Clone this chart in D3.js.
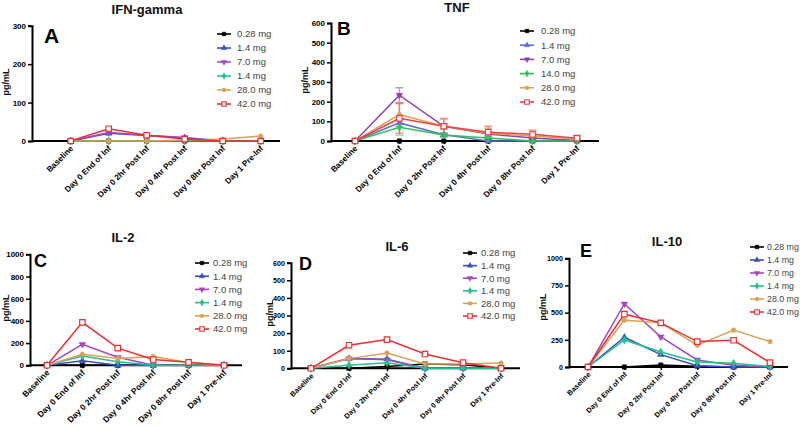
<!DOCTYPE html>
<html><head><meta charset="utf-8">
<script src="https://cdn.jsdelivr.net/npm/d3@7"></script>
<style>
html,body{margin:0;padding:0;background:#fff;}
svg{display:block;font-family:"Liberation Sans",Arial,sans-serif;}
</style></head>
<body>
<svg id="chart" width="800" height="426"></svg>
<script>
// ---------- data ----------
const categories = ["Baseline","Day 0 End of Inf","Day 0 2hr Post Inf","Day 0 4hr Post Inf","Day 0 8hr Post Inf","Day 1 Pre-Inf"];
const doseLabels = ["0.28 mg","1.4 mg","7.0 mg","1.4 mg","28.0 mg","42.0 mg"];
const doseLabelsTNF = ["0.28 mg","1.4 mg","7.0 mg","14.0 mg","28.0 mg","42.0 mg"];
const panelTitles = ["IFN-gamma","TNF","IL-2","IL-6","IL-10"];
const panelLetters = ["A","B","C","D","E"];
const yMaxes = [300,600,1000,600,1000];
const ticksA = [0,100,200,300];
const ticksB = [0,100,200,300,400,500,600];
const ticksC = [0,200,400,600,800,1000];
const ticksD = [0,100,200,300,400,500,600];
const ticksE = [0,250,500,750,1000];

// rows: 0.28, 1.4, 7.0, 1.4/14.0, 28.0, 42.0 mg
const ifnGamma = [
  [0,0,0,0,0,0],
  [0,20,14,8,0,0],
  [0,22,15,9,0,0],
  [0,0,0,0,0,0],
  [0,0,0,2,5,13],
  [0,32,15,5,0,0]
];
const tnf = [
  [0,0,0,0,0,0],
  [0,92,32,0,0,0],
  [0,233,75,35,15,3],
  [0,70,30,15,0,0],
  [0,134,75,40,25,10],
  [0,115,75,45,34,14]
];
const tnfErr = [
  [0,0,0,0,0,0],
  [0,20,8,5,0,0],
  [0,38,12,10,6,3],
  [0,40,10,8,0,0],
  [0,60,35,25,15,10],
  [0,75,40,30,22,15]
];
const il2 = [
  [0,0,0,0,0,0],
  [0,40,0,0,0,0],
  [0,189,72,0,0,0],
  [0,84,33,0,0,0],
  [0,99,62,79,25,0],
  [0,387,155,52,27,0]
];
const il6 = [
  [0,0,10,25,20,0],
  [0,55,52,0,0,0],
  [0,55,48,0,0,0],
  [0,18,32,0,0,0],
  [0,55,87,25,25,30],
  [0,131,163,81,32,0]
];
const il10 = [
  [0,0,18,8,0,0],
  [0,274,114,12,0,0],
  [0,580,277,65,17,0],
  [0,249,138,46,34,5],
  [0,431,406,200,339,234],
  [0,486,406,234,246,40]
];

// ---------- styling / layout ----------
const colors = ["#000000","#3b4fc2","#a347c2","#22c08a","#d9a355","#ef2f2f"];
const tnfColors = ["#000000","#6070d0","#9040b0","#30c060","#e0a050","#f04040"];
const shapes = ["square","tri","tridown","diamond","circle","opensquare"];

const panels = [
  {data:ifnGamma, ticks:ticksA, labels:doseLabels, cols:colors, ax:32, y0:141, yt:25.7, x0:70.7, x1:260.7, xe:280, xfs:8.2, yfs:8,
   title:{x:147,y:14,s:13}, letter:{x:44,y:43,s:21}, ylab:{x:9,y:82}, leg:{x:224,tx:237,y:34,dy:14,fs:9.5}},
  {data:tnf, err:tnfErr, ticks:ticksB, labels:doseLabelsTNF, cols:tnfColors, ax:331, y0:141, yt:23, x0:355, x1:577, xe:599, xfs:8.2, yfs:8,
   title:{x:457,y:12,s:13}, letter:{x:337,y:35,s:19}, ylab:{x:308,y:80}, leg:{x:527,tx:541,y:31,dy:14.2,fs:9.5}},
  {data:il2, ticks:ticksC, labels:doseLabels, cols:colors, ax:30, y0:365.3, yt:254.3, x0:47, x1:224, xe:242, xfs:8.4, yfs:8,
   title:{x:123,y:242,s:13}, letter:{x:34,y:267,s:18}, ylab:{x:9,y:308}, leg:{x:202,tx:213,y:263,dy:13.2,fs:9.5}},
  {data:il6, ticks:ticksD, labels:doseLabels, cols:colors, ax:291, y0:368.3, yt:262.7, x0:311, x1:501, xe:520, xfs:7.2, yfs:7.2,
   title:{x:397,y:251,s:13}, letter:{x:299,y:270,s:18}, ylab:{x:273,y:313}, leg:{x:470,tx:481,y:253,dy:12.6,fs:9.5}},
  {data:il10, ticks:ticksE, labels:doseLabels, cols:colors, ax:569, y0:367, yt:258.3, x0:588, x1:770, xe:788, xfs:7.2, yfs:7.2,
   title:{x:667,y:246,s:13}, letter:{x:580,y:257,s:18}, ylab:{x:546,y:307}, leg:{x:757,tx:767,y:247,dy:13,fs:8.8}}
];

const svg = d3.select("#chart");

function drawMarker(g, shape, color, x, y, size) {
  const s = size;
  let sym;
  if (shape === "square" || shape === "opensquare") sym = d3.symbolSquare;
  else if (shape === "tri" || shape === "tridown") sym = d3.symbolTriangle;
  else if (shape === "diamond") sym = d3.symbolDiamond;
  else sym = d3.symbolCircle;
  const area = shape === "opensquare" ? s*s*1.4 : (shape === "circle" ? s*s*0.8 : s*s*0.9);
  const p = g.append("path")
    .attr("d", d3.symbol().type(sym).size(area)())
    .attr("transform", `translate(${x},${y})` + (shape === "tridown" ? " rotate(180)" : ""));
  if (shape === "opensquare") p.attr("fill","#fff").attr("stroke",color).attr("stroke-width",1.2);
  else p.attr("fill",color).attr("stroke",color).attr("stroke-width",0.5);
}

panels.forEach((P, pi) => {
  const g = svg.append("g");
  const x = d3.scalePoint().domain(categories).range([P.x0, P.x1]);
  const y = d3.scaleLinear().domain([0, yMaxes[pi]]).range([P.y0, P.yt]);

  // y axis
  const yAxis = d3.axisLeft(y).tickValues(P.ticks).tickSize(4).tickPadding(2).tickFormat(d3.format("d"));
  const ya = g.append("g").attr("transform", `translate(${P.ax},0)`).call(yAxis);
  ya.select(".domain").attr("stroke","#000").attr("stroke-width",2);
  ya.selectAll(".tick line").attr("stroke","#000").attr("stroke-width",1.5);
  ya.selectAll(".tick text").attr("font-size",P.yfs).attr("font-weight","bold").attr("fill","#000")
    .attr("font-family","Liberation Sans, Arial, sans-serif");

  // x axis
  const xAxis = d3.axisBottom(x).tickSize(3).tickSizeOuter(0).tickFormat("");
  const xa = g.append("g").attr("transform", `translate(0,${P.y0})`).call(xAxis);
  xa.select(".domain").remove();
  xa.selectAll(".tick line").attr("stroke","#000").attr("stroke-width",1.5);
  g.append("line").attr("x1",P.ax).attr("x2",P.xe).attr("y1",y(0)).attr("y2",y(0))
    .attr("stroke","#000").attr("stroke-width",2);
  g.selectAll("text.xl").data(categories).enter().append("text").attr("class","xl")
    .attr("transform", d => `translate(${x(d)+3},${P.y0+8}) rotate(-45)`)
    .attr("text-anchor","end").attr("font-size",P.xfs).attr("font-weight","bold").attr("fill","#000")
    .text(d => d);

  // error bars
  if (P.err) {
    P.data.forEach((row, si) => {
      row.forEach((v, ci) => {
        const e = P.err[si][ci];
        if (!e) return;
        const cx = x(categories[ci]);
        const eg = g.append("g").attr("stroke", P.cols[si]).attr("stroke-width",1.5).attr("opacity",0.55);
        eg.append("line").attr("x1",cx).attr("x2",cx).attr("y1",y(v+e)).attr("y2",y(Math.max(v-e,0)));
        eg.append("line").attr("x1",cx-4).attr("x2",cx+4).attr("y1",y(v+e)).attr("y2",y(v+e));
        if (v-e > 0) eg.append("line").attr("x1",cx-4).attr("x2",cx+4).attr("y1",y(v-e)).attr("y2",y(v-e));
      });
    });
  }

  // lines + markers
  const line = d3.line().x((d,i) => x(categories[i])).y(d => y(d));
  P.data.forEach((row, si) => {
    g.append("path").datum(row).attr("d", line).attr("fill","none")
      .attr("stroke", P.cols[si]).attr("stroke-width",1.5);
    row.forEach((v, ci) => drawMarker(g, shapes[si], P.cols[si], x(categories[ci]), y(v), 4.6));
  });

  // title, letter, y label
  g.append("text").attr("x",P.title.x).attr("y",P.title.y).attr("text-anchor","middle")
    .attr("font-size",P.title.s).attr("font-weight","bold").attr("fill","#111").text(panelTitles[pi]);
  g.append("text").attr("x",P.letter.x).attr("y",P.letter.y)
    .attr("font-size",P.letter.s).attr("font-weight","bold").attr("fill","#000").text(panelLetters[pi]);
  g.append("text").attr("transform",`translate(${P.ylab.x},${P.ylab.y}) rotate(-90)`)
    .attr("text-anchor","middle").attr("font-size",9).attr("font-weight","bold").attr("fill","#111").text("pg/mL");

  // legend
  P.labels.forEach((lab, si) => {
    const ly = P.leg.y + si * P.leg.dy;
    g.append("line").attr("x1",P.leg.x-7).attr("x2",P.leg.x+7).attr("y1",ly).attr("y2",ly)
      .attr("stroke",P.cols[si]).attr("stroke-width",1.6);
    drawMarker(g, shapes[si], P.cols[si], P.leg.x, ly, 3.8);
    g.append("text").attr("x",P.leg.tx).attr("y",ly).attr("dy","0.35em")
      .attr("font-size",P.leg.fs).attr("fill","#444").text(lab);
  });
});
</script>
</body></html>
